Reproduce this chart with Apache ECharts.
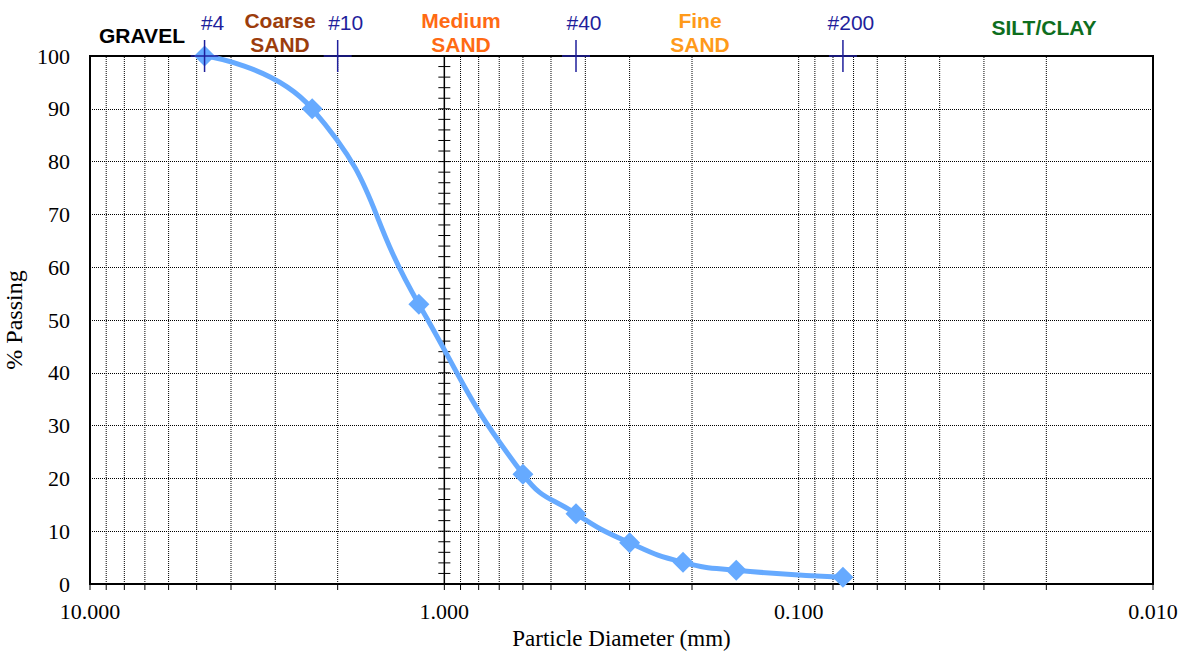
<!DOCTYPE html>
<html><head><meta charset="utf-8">
<script src="https://cdn.jsdelivr.net/npm/echarts@6/dist/echarts.min.js"></script>
<style>html,body{margin:0;padding:0;background:#fff}#c{width:1188px;height:651px}</style>
</head><body><div id="c"></div>
<script>
// Data
const diameters = [4.75, 2.36, 1.18, 0.60, 0.425, 0.30, 0.212, 0.15, 0.075];
const passing = [100, 90, 53, 20.8, 13.3, 7.8, 4.1, 2.6, 1.3];
const gridDiameters = [9, 8, 7, 6, 5, 4, 3, 2, 0.9, 0.8, 0.7, 0.6, 0.5, 0.4, 0.3, 0.2, 0.1, 0.09, 0.08, 0.07, 0.06, 0.05, 0.04, 0.03, 0.02];
const tickDiameters = [10, 9, 8, 7, 6, 5, 4, 3, 2, 1, 0.9, 0.8, 0.7, 0.6, 0.5, 0.4, 0.3, 0.2, 0.1, 0.09, 0.08, 0.07, 0.06, 0.05, 0.04, 0.03, 0.02, 0.01];
const crossAxisTicks = [0, 2, 4, 6, 8, 10, 12, 14, 16, 18, 20, 22, 24, 26, 28, 30, 32, 34, 36, 38, 40, 42, 44, 46, 48, 50, 52, 54, 56, 58, 60, 62, 64, 66, 68, 70, 72, 74, 76, 78, 80, 82, 84, 86, 88, 90, 92, 94, 96, 98, 100];
const sieveNames = ['#4', '#10', '#40', '#200'];
const sieveSizes = [4.75, 2.0, 0.425, 0.075];

const navy = '#1f1f9c';
const serif = '"Liberation Serif", "Times New Roman", serif';
const sans = '"Liberation Sans", Arial, sans-serif';
const chart = echarts.init(document.getElementById('c'), null, {renderer: 'svg'});

chart.setOption({
  animation: false,
  grid: {left: 90, right: 35, top: 56, bottom: 67, show: true, borderColor: '#000', borderWidth: 2,
    containLabel: false, outerBoundsMode: 'none'},
  xAxis: {
    type: 'log', logBase: 10, min: 0.01, max: 10, inverse: true,
    name: 'Particle Diameter (mm)', nameLocation: 'middle', nameGap: 41,
    nameTextStyle: {fontFamily: serif, fontSize: 23, color: '#000'},
    axisLine: {show: true, lineStyle: {color: '#000', width: 2}},
    axisTick: {show: false},
    splitLine: {show: false},
    axisLabel: {formatter: v => Number(v).toFixed(3), margin: 16,
      fontFamily: serif, fontSize: 22, color: '#000'}
  },
  yAxis: {
    type: 'value', min: 0, max: 100, interval: 10,
    name: '% Passing', nameLocation: 'middle', nameGap: 55, nameRotate: 90,
    nameTextStyle: {fontFamily: serif, fontSize: 24, color: '#000'},
    axisLine: {show: true, lineStyle: {color: '#000', width: 2}},
    axisTick: {show: false},
    splitLine: {show: true, lineStyle: {color: '#000', width: 1, type: [1, 1]}},
    axisLabel: {margin: 20, fontFamily: serif, fontSize: 22, color: '#000'}
  },
  series: [
    { // vertical dotted gridlines
      type: 'custom', silent: true, z: 1,
      data: gridDiameters.map(v => [v, 0]),
      renderItem: (p, api) => {
        const a = api.coord([api.value(0), 0]), b = api.coord([api.value(0), 100]);
        return {type: 'line', shape: {x1: a[0], y1: a[1], x2: b[0], y2: b[1]},
          style: {stroke: '#000', lineWidth: 1, lineDash: [1, 1]}};
      }
    },
    { // ticks below x axis
      type: 'custom', silent: true, clip: false, z: 3,
      data: tickDiameters.map(v => [v, 0]),
      renderItem: (p, api) => {
        const a = api.coord([api.value(0), 0]);
        return {type: 'line', shape: {x1: a[0], y1: a[1], x2: a[0], y2: a[1] + 6},
          style: {stroke: '#000', lineWidth: 1}};
      }
    },
    { // crossing vertical axis at 1.000
      type: 'line', silent: true, z: 3, symbol: 'none',
      data: [[1, 0], [1, 100]],
      lineStyle: {color: '#000', width: 1.5}
    },
    { // cross ticks on the 1.000 axis
      type: 'custom', silent: true, z: 3,
      data: crossAxisTicks.map(v => [1, v]),
      renderItem: (p, api) => {
        const a = api.coord([1, api.value(1)]);
        return {type: 'line', shape: {x1: a[0] - 6, y1: a[1], x2: a[0] + 6, y2: a[1]},
          style: {stroke: '#000', lineWidth: 1}};
      }
    },
    { // gradation curve
      type: 'line', z: 5, clip: false,
      data: diameters.map((d, i) => [d, passing[i]]),
      smooth: 0.5,
      symbol: 'diamond', symbolSize: 21,
      lineStyle: {color: '#66aaff', width: 5},
      itemStyle: {color: '#66aaff'}
    },
    { // sieve crosses + labels
      type: 'custom', silent: true, clip: false, z: 10,
      data: sieveSizes.map((s, i) => [s, 100, i]),
      renderItem: (p, api) => {
        const a = api.coord([api.value(0), 100]);
        const i = api.value(2);
        return {type: 'group', children: [
          {type: 'line', shape: {x1: a[0], y1: a[1] - 16, x2: a[0], y2: a[1] + 16}, style: {stroke: navy, lineWidth: 1.5}},
          {type: 'line', shape: {x1: a[0] - 14, y1: a[1], x2: a[0] + 14, y2: a[1]}, style: {stroke: navy, lineWidth: 1.5}},
          {type: 'text', style: {text: sieveNames[i], x: a[0] + 8, y: a[1] - 34, textAlign: 'center', textVerticalAlign: 'middle',
            fill: navy, font: '21px ' + sans}}
        ]};
      }
    },
    { // zone labels
      type: 'custom', silent: true, clip: false, z: 10,
      data: [[0]],
      renderItem: () => {
        const t = (txt, x, y, color) => ({type: 'text', style: {text: txt, x: x, y: y, textAlign: 'center', textVerticalAlign: 'middle',
          fill: color, font: 'bold 21px ' + sans, lineHeight: 24}});
        return {type: 'group', children: [
          t('GRAVEL', 142, 35, '#000'),
          t('Coarse\nSAND', 280, 32, '#9c3d0c'),
          t('Medium\nSAND', 461, 32, '#ff6a13'),
          t('Fine\nSAND', 700, 32, '#ff9a1a'),
          t('SILT/CLAY', 1044, 27, '#0e6e1e')
        ]};
      }
    }
  ]
});
</script></body></html>
